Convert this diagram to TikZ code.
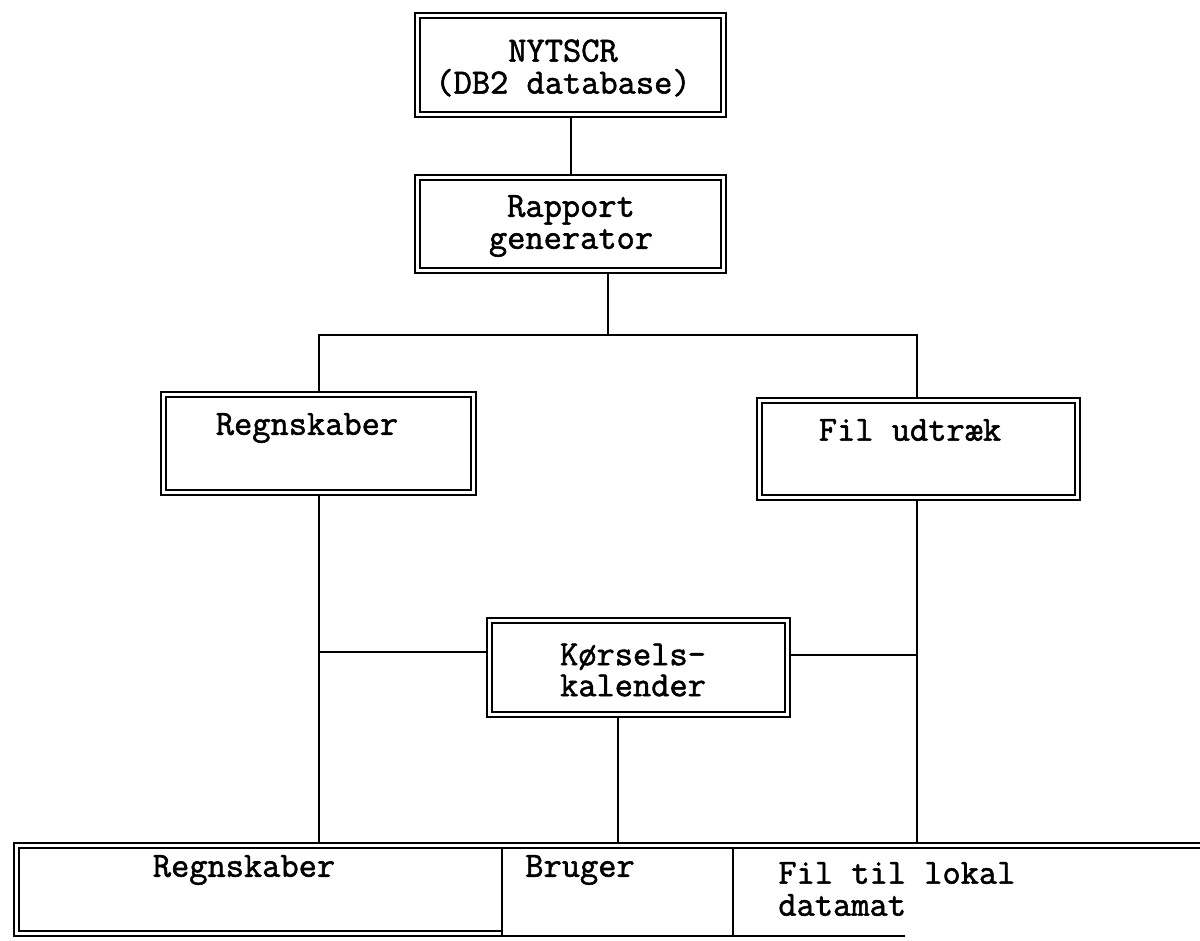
\documentclass[tikz,border=0pt]{standalone}
\usepackage{fontspec}
\newfontfamily\typewriter[FakeBold=1.6]{Latin Modern Mono}
\begin{document}
\begin{tikzpicture}[x=0.5pt,y=-0.5pt,
  conn/.style={line width=1pt},
  outerline/.style={line width=1.4pt},
  innerline/.style={line width=0.7pt},
  dbox/.style={draw,outerline,inner sep=0pt,outer sep=0pt},
  cell/.style={inner sep=0pt,outer sep=0pt,minimum height=46.5pt},
  label/.style={inner sep=0pt,font=\typewriter\fontsize{17.7pt}{16pt}\selectfont}]
\useasboundingbox (0,0) rectangle (1200,941);

% framed boxes
\node[dbox,minimum width=155.5pt,minimum height=52pt] (db) at (570.5,65) {};
\node[dbox,minimum width=155.5pt,minimum height=49pt] (gen) at (570.5,224) {};
\node[dbox,minimum width=157.5pt,minimum height=51.5pt] (regn) at (318.5,443.5) {};
\node[dbox,minimum width=161.5pt,minimum height=51pt] (fil) at (918.5,449) {};
\node[dbox,minimum width=151.5pt,minimum height=49.5pt] (kal) at (638.5,667.5) {};

% box texts
\node[label,align=center] (db-t) at (563,68) {NYTSCR\\(DB2 database)};
\node[label,align=center] (gen-t) at (571,226) {Rapport\\generator};
\node[label] (regn-t) at (307,428) {Regnskaber};
\node[label] (fil-t) at (910,430) {Fil udtræk};
\node[label,align=center,font=\typewriter\fontsize{17.7pt}{15.5pt}\selectfont] (kal-t) at (633,670) {Kørsels-\\kalender};

% inner frame line of each box
\foreach \n in {db,gen,regn,fil,kal}
  \draw[innerline] ([shift={(2.5pt,-2.5pt)}]\n.north west) rectangle ([shift={(-2.5pt,2.5pt)}]\n.south east);

% bottom row of three cells
\node[cell,minimum width=244pt] (bA) at (258,889.5) {};
\node[cell,minimum width=115.5pt] (bB) at (617.5,889.5) {};
\node[cell,minimum width=233.5pt] (bC) at (966.5,889.5) {};
\coordinate (cend) at (905,936);
\draw[outerline] (bC.north east) -- (bA.north west) -- (bA.south west) -- (bA.south east);
\draw[innerline] ([yshift=-2.5pt]bC.north east) -- ([shift={(2.5pt,-2.5pt)}]bA.north west)
  -- ([shift={(2.5pt,2.5pt)}]bA.south west) -- ([yshift=2.5pt]bA.south east);
\draw[conn] (bA.south east) -- (cend);
\draw[conn] ([yshift=-2.5pt]bB.north west) -- (bB.south west);
\draw[conn] ([yshift=-2.5pt]bC.north west) -- (bC.south west);
\node[label] (bA-t) at (244,870) {Regnskaber};
\node[label] (bB-t) at (580,870) {Bruger};
\node[label,anchor=west,align=left] (bC-t) at (778,889) {Fil til lokal\\datamat};

% connectors
\coordinate (xc) at (571,0);
\coordinate (jn) at (608,335);
\coordinate (xl) at (319,0);
\coordinate (xr) at (917,0);
\coordinate (xk) at (618,0);
\coordinate (kl) at (0,652);
\coordinate (kr) at (0,655);
\draw[conn] (db.south -| xc) -- (gen.north -| xc);
\draw[conn] (gen.south -| jn) -- (jn);
\draw[conn] (regn.north -| xl) -- (xl |- jn) -- (xr |- jn) -- (fil.north -| xr);
\draw[conn] (regn.south -| xl) -- (bA.north -| xl);
\draw[conn] (fil.south -| xr) -- (bC.north -| xr);
\draw[conn] (kl -| xl) -- (kl -| kal.west);
\draw[conn] (kr -| kal.east) -- (kr -| xr);
\draw[conn] (kal.south -| xk) -- (bB.north -| xk);
\end{tikzpicture}
\end{document}
